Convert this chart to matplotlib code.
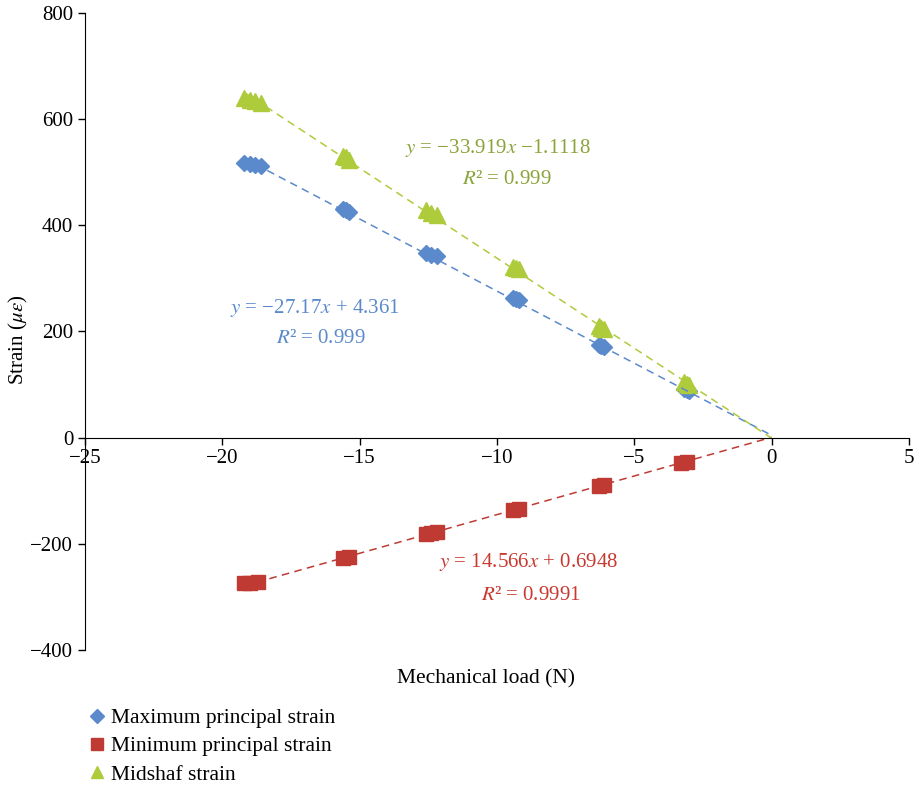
import matplotlib

matplotlib.use("Agg", force=True)
import matplotlib.pyplot as plt
import numpy as np

plt.rcParams["font.family"] = ["Liberation Serif", "DejaVu Serif"]
plt.rcParams["mathtext.fontset"] = "stix"

# mechanical load (N) and strain (microstrain), several readings per load step
load_max = [-19.2, -19.0, -18.8, -18.6, -15.6, -15.5, -15.4, -12.6, -12.4, -12.2,
            -9.4, -9.3, -9.2, -6.3, -6.2, -6.1, -3.2, -3.1, -3.0]
strain_max = [517, 515, 513, 511, 430, 428, 425, 348, 345, 342,
              264, 262, 260, 174, 172, 170, 92, 90, 88]

load_min = [-19.2, -19.0, -18.7, -15.6, -15.4, -12.6, -12.4, -12.2,
            -9.4, -9.2, -6.3, -6.1, -3.3, -3.1]
strain_min = [-274, -273, -272, -227, -225, -182, -180, -178,
              -136, -134, -91, -89, -47, -45]

load_mid = [-19.2, -19.0, -18.8, -18.6, -15.6, -15.5, -15.4, -12.6, -12.4, -12.2,
            -9.4, -9.3, -9.2, -6.3, -6.2, -6.1, -3.2, -3.1, -3.0]
strain_mid = [640, 637, 634, 631, 531, 528, 524, 428, 424, 420,
              322, 319, 317, 210, 207, 205, 104, 102, 100]

# linear trend lines (slope, intercept, R^2) as printed on the chart
fit_max = (-27.17, 4.361, "0.999")
fit_min = (14.566, 0.6948, "0.9991")
fit_mid = (-33.919, -1.1118, "0.999")

c_max, c_min, c_mid = "#5A8ACB", "#BF3A33", "#AECB3C"
t_max, t_min, t_mid = "#5A8ACB", "#C8382F", "#8AA33A"

fig = plt.figure(figsize=(9.17, 7.89), dpi=100)
ax = fig.add_axes([85 / 917, 1 - 650 / 789, (909 - 85) / 917, (650 - 13) / 789])

ax.plot(load_max, strain_max, "D", color=c_max, ms=8, label="Maximum principal strain")
ax.plot(load_min, strain_min, "s", color=c_min, ms=9.5, label="Minimum principal strain")
ax.plot(load_mid, strain_mid, "^", color=c_mid, ms=11, label="Midshaf strain")

for (slope, icpt, _), xs, col in [(fit_max, load_max, c_max), (fit_min, load_min, c_min),
                                  (fit_mid, load_mid, c_mid)]:
    xx = np.array([min(xs), 0.0])
    ax.plot(xx, slope * xx + icpt, "--", color=col, lw=1.1, dashes=(5, 3.5))

fs = 15
ax.text(-9.98, 546, r"$y$ = −33.919$x$ −1.1118", color=t_mid, fontsize=fs, ha="center", va="center")
ax.text(-9.65, 487, r"$R$² = " + fit_mid[2], color=t_mid, fontsize=fs, ha="center", va="center")
ax.text(-16.64, 245, r"$y$ = −27.17$x$ + 4.361", color=t_max, fontsize=fs, ha="center", va="center")
ax.text(-16.42, 186, r"$R$² = " + fit_max[2], color=t_max, fontsize=fs, ha="center", va="center")
ax.text(-8.85, -235, r"$y$ = 14.566$x$ + 0.6948", color=t_min, fontsize=fs, ha="center", va="center")
ax.text(-8.78, -297, r"$R$² = " + fit_min[2], color=t_min, fontsize=fs, ha="center", va="center")

ax.set_xlim(-25, 5)
ax.set_ylim(-400, 800)
ax.set_xticks([-25, -20, -15, -10, -5, 0, 5])
ax.set_yticks([-400, -200, 0, 200, 400, 600, 800])
ax.set_xticklabels(["\u221225", "\u221220", "\u221215", "\u221210", "\u22125", "0", "5"])
ax.set_yticklabels(["\u2212400", "\u2212200", "0", "200", "400", "600", "800"])
ax.spines["bottom"].set_position(("data", 0))
ax.spines["top"].set_visible(False)
ax.spines["right"].set_visible(False)
ax.tick_params(labelsize=15, length=5, width=1, direction="out")

ax.text(0.487, -0.045, "Mechanical load (N)", transform=ax.transAxes, fontsize=15.5,
        ha="center", va="center")
fig.text(18 / 917, 1 - 340 / 789, r"Strain ($\mu\varepsilon$)", rotation=90, fontsize=15,
         ha="center", va="center")

fig.legend(loc="upper left", bbox_to_anchor=(86 / 917, 1 - 708 / 789), frameon=False,
           fontsize=15.5, handletextpad=0.15, labelspacing=0.38, handlelength=1.0,
           markerscale=0.85, borderaxespad=0, borderpad=0)

fig.savefig("out.png", dpi=100)
